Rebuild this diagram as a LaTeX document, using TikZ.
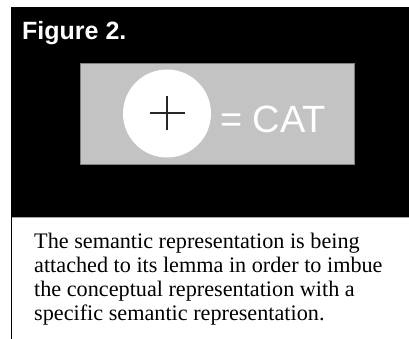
\documentclass[tikz,border=0pt]{standalone}
\usepackage{fontspec}
\setmainfont{Liberation Serif}
\newfontfamily\headfont{Liberation Sans}
\definecolor{panelgray}{HTML}{C3C3C3}
\tikzset{
  title/.style={text=white, font=\headfont\bfseries\fontsize{25}{30}\selectfont, inner sep=0pt, anchor=base west},
  token/.style={circle, fill=white, minimum size=88pt, inner sep=0pt},
  label/.style={text=white, font=\headfont\fontsize{38}{40}\selectfont, inner sep=0pt, anchor=base west},
  caption/.style={font=\fontsize{22.2}{24}\selectfont, align=left, inner sep=0pt, anchor=north west}
}
\begin{document}
\begin{tikzpicture}[x=1pt, y=-1pt]
  \useasboundingbox[fill=white] (0, 0) rectangle (409, 339);
  \fill[black] (11, 7) rectangle (409, 217);
  \fill[panelgray] (80, 63) rectangle (354, 164);
  \draw[gray, thin] (80, 63) rectangle (354, 164);
  \draw[gray!70, thin] (11, 217.5) -- (409, 217.5);
  \draw[black, line width=1.5pt] (11.7, 217) -- (11.7, 339);
  \node[title] (head) at (22, 40) {Figure 2.};
  \node[token] (plus) at (167, 113.5) {};
  \draw[black!85, line width=2pt] ([xshift=-17.5pt]plus.center) -- ([xshift=17.5pt]plus.center);
  \draw[black!85, line width=2pt] ([yshift=-17pt]plus.center) -- ([yshift=17pt]plus.center);
  \node[label] (cat) at (220, 133) {= CAT};
  \node[caption] (text) at (34, 232.8) {The semantic representation is being\\
    attached to its lemma in order to imbue\\
    the conceptual representation with a\\
    specific semantic representation.};
\end{tikzpicture}
\end{document}
